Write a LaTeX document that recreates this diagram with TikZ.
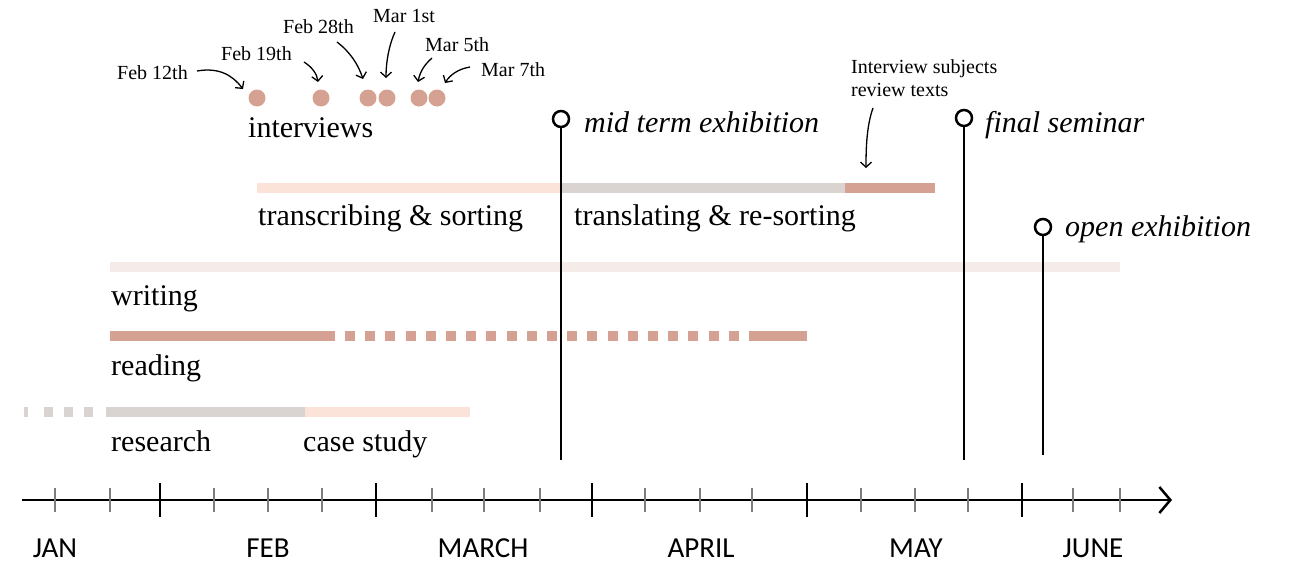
\documentclass[tikz,border=0pt]{standalone}
\usepackage{fontspec}
\setmainfont{Liberation Serif}
\newfontfamily\monthfont{Carlito}
\usetikzlibrary{arrows.meta}
\definecolor{rose}{RGB}{212,161,146}
\definecolor{blush}{RGB}{251,227,217}
\definecolor{stone}{RGB}{217,211,210}
\definecolor{mist}{RGB}{245,236,234}
\definecolor{tickgray}{RGB}{125,125,125}
\begin{document}
\begin{tikzpicture}[x=1pt,y=-1pt,
  tasklabel/.style={anchor=base west, inner sep=0pt, font=\fontsize{30}{34}\selectfont},
  eventlabel/.style={anchor=base west, inner sep=0pt, font=\fontsize{30}{34}\selectfont\itshape},
  notelabel/.style={anchor=base west, inner sep=0pt, font=\fontsize{20}{23}\selectfont},
  monthlabel/.style={anchor=base, inner sep=0pt, font=\monthfont\fontsize{29}{33}\selectfont},
  taskbar/.style={line width=10pt},
  interviewdot/.style={circle, fill=rose, minimum size=17pt, inner sep=0pt},
  milestonehead/.style={circle, draw, line width=2.5pt, fill=white, minimum size=16pt, inner sep=0pt},
  milestonepole/.style={line width=2.5pt},
  notearrow/.style={line width=1.3pt, -{Straight Barb[length=5pt,width=11pt]}},
  majortick/.style={line width=2.5pt},
  minortick/.style={line width=1.5pt, tickgray},
]
\useasboundingbox (0,0) rectangle (1294,562);

% ---- time axis ----
\coordinate (axisstart) at (22,500);
\coordinate (axisend) at (1172,500);
\draw[line width=2.5pt, -{Straight Barb[length=11pt,width=26pt]}] (axisstart) -- (axisend);
\foreach \x in {55,110,214,268,322,432,484,540,645,700,752,861,915,968,1073,1120}
  \draw[minortick] (\x,488) -- (\x,512);
\foreach \x in {160,376,592,807,1022}
  \draw[majortick] (\x,483) -- (\x,517);
\node[monthlabel] (jan) at (55,557) {JAN};
\node[monthlabel] (feb) at (268,557) {FEB};
\node[monthlabel] (mar) at (483,557) {MARCH};
\node[monthlabel] (apr) at (701,557) {APRIL};
\node[monthlabel] (may) at (916,557) {MAY};
\node[monthlabel] (jun) at (1093,557) {JUNE};

% ---- research / case study ----
\draw[taskbar, stone, dash pattern=on 4pt off 16pt on 9pt off 11pt on 9pt off 11pt on 9pt off 11pt] (24,412) -- (93,412);
\draw[taskbar, stone] (106,412) -- (305,412);
\draw[taskbar, blush] (305,412) -- (470,412);
\node[tasklabel] (research) at (111,451) {research};
\node[tasklabel] (casestudy) at (303,451) {case study};

% ---- reading ----
\draw[taskbar, rose] (110,336) -- (335,336);
\draw[taskbar, rose, dash pattern=on 10pt off 10.2pt] (345,336) -- (740,336);
\draw[taskbar, rose] (749,336) -- (807,336);
\node[tasklabel] (reading) at (111,375) {reading};

% ---- writing ----
\draw[taskbar, mist] (110,267) -- (1120,267);
\node[tasklabel] (writing) at (111,305) {writing};

% ---- transcribing / translating ----
\draw[taskbar, blush] (257,188) -- (560,188);
\draw[taskbar, stone] (560,188) -- (845,188);
\draw[taskbar, rose] (845,188) -- (935,188);
\node[tasklabel] (transcribing) at (258,225) {transcribing \& sorting};
\node[tasklabel] (translating) at (574,225) {translating \& re-sorting};

% ---- interviews ----
\node[interviewdot] (i1) at (257,98) {};
\node[interviewdot] (i2) at (321,98) {};
\node[interviewdot] (i3) at (368,98) {};
\node[interviewdot] (i4) at (387,98) {};
\node[interviewdot] (i5) at (419,98) {};
\node[interviewdot] (i6) at (437,98) {};
\node[tasklabel] (interviews) at (248,137) {interviews};

\node[notelabel] (d1) at (117,79) {Feb 12th};
\node[notelabel] (d2) at (221,60) {Feb 19th};
\node[notelabel] (d3) at (283,33) {Feb 28th};
\node[notelabel] (d4) at (373,22) {Mar 1st};
\node[notelabel] (d5) at (425,51) {Mar 5th};
\node[notelabel] (d6) at (481,76) {Mar 7th};

\coordinate (a1) at (197,71);  \coordinate (b1) at (243,89);
\coordinate (a2) at (304,62);  \coordinate (b2) at (318,82);
\coordinate (a3) at (337,42);  \coordinate (b3) at (363,79);
\coordinate (a4) at (395,32);  \coordinate (b4) at (386,78);
\coordinate (a5) at (432,58);  \coordinate (b5) at (418,82);
\coordinate (a6) at (470,67);  \coordinate (b6) at (445,83);
\draw[notearrow] (a1) .. controls (220,67) and (233,76) .. (b1);
\draw[notearrow] (a2) .. controls (312,67) and (317,74) .. (b2);
\draw[notearrow] (a3) .. controls (350,52) and (358,64) .. (b3);
\draw[notearrow] (a4) .. controls (389,45) and (386,62) .. (b4);
\draw[notearrow] (a5) .. controls (424,65) and (420,72) .. (b5);
\draw[notearrow] (a6) .. controls (458,69) and (450,75) .. (b6);

% ---- review note ----
\node[notelabel] (review1) at (851,73) {Interview subjects};
\node[notelabel] (review2) at (851,96) {review texts};
\coordinate (ra) at (873,108);
\coordinate (rb) at (866,168);
\draw[notearrow] (ra) .. controls (867,125) and (866,145) .. (rb);

% ---- milestones ----
\node[milestonehead] (midterm) at (561,119) {};
\coordinate (midtermfoot) at (561,460);
\draw[milestonepole] (midterm.south) -- (midtermfoot);
\node[eventlabel] (midtermtext) at (584,132) {mid term exhibition};

\node[milestonehead] (final) at (964,118) {};
\coordinate (finalfoot) at (964,460);
\draw[milestonepole] (final.south) -- (finalfoot);
\node[eventlabel] (finaltext) at (985,132) {final seminar};

\node[milestonehead] (open) at (1043,227) {};
\coordinate (openfoot) at (1043,455);
\draw[milestonepole] (open.south) -- (openfoot);
\node[eventlabel] (opentext) at (1065,236) {open exhibition};
\end{tikzpicture}
\end{document}
